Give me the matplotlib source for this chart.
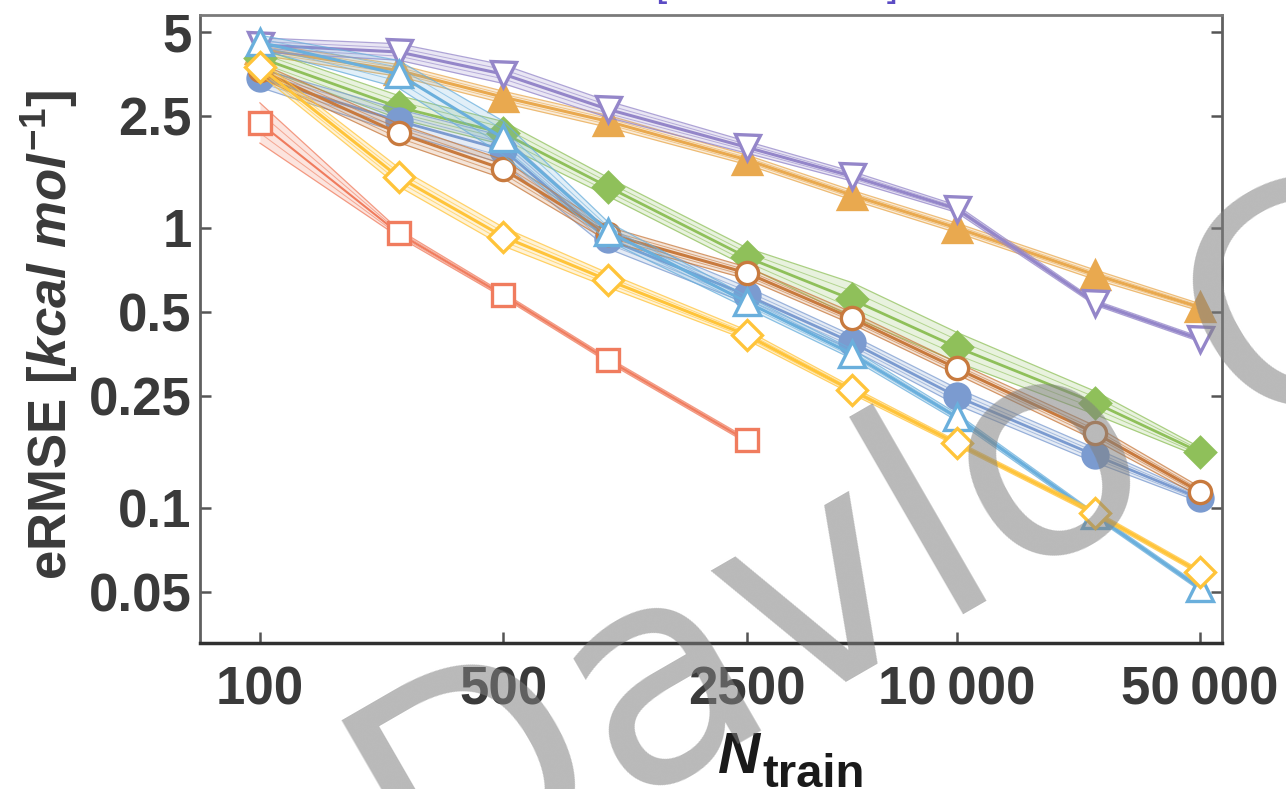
import numpy as np
import matplotlib
matplotlib.use("Agg")
import matplotlib.pyplot as plt

plt.rcParams["font.family"] = ["Liberation Sans", "DejaVu Sans"]
plt.rcParams["font.weight"] = "bold"
plt.rcParams["mathtext.fontset"] = "custom"
plt.rcParams["mathtext.rm"] = "Liberation Sans:bold"
plt.rcParams["mathtext.bf"] = "Liberation Sans:bold"
plt.rcParams["mathtext.it"] = "Liberation Sans:italic:bold"

# training-set sizes
n_train = [100, 250, 500, 1000, 2500, 5000, 10000, 25000, 50000]
n_train_short = [100, 250, 500, 1000, 2500]

# mean errors per model (kcal/mol)
purple = [4.50, 4.25, 3.54, 2.65, 1.94, 1.53, 1.17, 0.54, 0.40]
orange = [4.35, 3.65, 2.93, 2.40, 1.75, 1.31, 1.00, 0.68, 0.52]
green = [4.05, 2.70, 2.18, 1.40, 0.785, 0.555, 0.375, 0.237, 0.158]
blue = [3.43, 2.41, 1.90, 0.91, 0.575, 0.39, 0.250, 0.154, 0.108]
brown = [3.65, 2.18, 1.62, 0.95, 0.69, 0.476, 0.315, 0.185, 0.114]
lightblue = [4.60, 3.54, 2.09, 0.97, 0.543, 0.355, 0.211, 0.094, 0.0516]
yellow = [3.75, 1.52, 0.93, 0.65, 0.414, 0.263, 0.170, 0.0957, 0.0589]
red = [2.37, 0.957, 0.575, 0.337, 0.174]

# relative spread of the runs around each mean
purple_spread = [0.06, 0.07, 0.08, 0.07, 0.05, 0.04, 0.03, 0.02, 0.02]
orange_spread = [0.05, 0.05, 0.05, 0.05, 0.04, 0.04, 0.04, 0.04, 0.03]
green_spread = [0.08, 0.10, 0.10, 0.08, 0.08, 0.15, 0.13, 0.10, 0.04]
blue_spread = [0.08, 0.10, 0.12, 0.08, 0.07, 0.06, 0.07, 0.06, 0.03]
brown_spread = [0.06, 0.08, 0.08, 0.06, 0.05, 0.05, 0.05, 0.06, 0.04]
lightblue_spread = [0.06, 0.12, 0.15, 0.08, 0.05, 0.04, 0.03, 0.02, 0.02]
yellow_spread = [0.06, 0.08, 0.08, 0.06, 0.04, 0.03, 0.02, 0.02, 0.02]
red_spread = [0.18, 0.03, 0.02, 0.02, 0.02]

y_ticks = [0.05, 0.1, 0.25, 0.5, 1, 2.5, 5]
y_ticklabels = ["0.05", "0.1", "0.25", "0.5", "1", "2.5", "5"]
x_ticks = [100, 500, 2500, 10000, 50000]
x_ticklabels = ["100", "500", "2500", "10\u2009000", "50\u2009000"]

fig = plt.figure(figsize=(12.86, 7.89), dpi=100)
ax = fig.add_axes([200 / 1286, 1 - 643 / 789, 1022 / 1286, 628 / 789])

series = [
    # (x, y, spread, color, marker, size, filled, linewidth)
    (n_train_short, red, red_spread, "#f07c5e", "s", 15.5, False, 1.5),
    (n_train, orange, orange_spread, "#e9a94f", "^", 20, True, 2.2),
    (n_train, purple, purple_spread, "#9486c9", "v", 18, False, 2.2),
    (n_train, green, green_spread, "#8fc05a", "D", 15, True, 2.0),
    (n_train, blue, blue_spread, "#7b9bd0", "o", 18, True, 2.0),
    (n_train, brown, brown_spread, "#c87a3e", "o", 16, False, 2.2),
    (n_train, lightblue, lightblue_spread, "#6aafdc", "^", 19, False, 2.2),
    (n_train, yellow, yellow_spread, "#ffc43a", "D", 15, False, 2.2),
]

for i, (x, y, s, c, m, ms, filled, lw) in enumerate(series):
    x = np.asarray(x, float)
    y = np.asarray(y, float)
    s = np.asarray(s, float)
    lo = y / (1 + s)
    hi = y * (1 + s)
    z = 2 + i
    ax.fill_between(x, lo, hi, color=c, alpha=0.2, lw=0, zorder=z)
    ax.plot(x, lo, color=c, lw=0.9, alpha=0.75, zorder=z)
    ax.plot(x, hi, color=c, lw=0.9, alpha=0.75, zorder=z)
    ax.plot(x, np.sqrt(lo * y), color=c, lw=0.7, alpha=0.6, zorder=z)
    ax.plot(x, np.sqrt(hi * y), color=c, lw=0.7, alpha=0.6, zorder=z)
    ax.plot(x, y, color=c, lw=lw, zorder=z + 0.5,
            marker=m, ms=ms, mew=2.4, mec=c,
            mfc=c if filled else "white")

ax.set_xscale("log")
ax.set_yscale("log")
ax.set_xlim(67.3, 57800)
ax.set_ylim(0.0329, 5.76)

ax.xaxis.set_minor_locator(matplotlib.ticker.NullLocator())
ax.yaxis.set_minor_locator(matplotlib.ticker.NullLocator())
ax.set_xticks(x_ticks)
ax.set_xticklabels(x_ticklabels)
ax.set_yticks(y_ticks)
ax.set_yticklabels(y_ticklabels)

ax.tick_params(axis="both", direction="in", length=8, width=1.8,
               color="#555555", labelsize=38, labelcolor="#3a3a3a")
ax.tick_params(axis="y", right=True, pad=6)
ax.tick_params(axis="x", top=False, pad=16)

for side in ["left", "right", "top"]:
    ax.spines[side].set_color("#606060")
    ax.spines[side].set_linewidth(2.0)
ax.spines["top"].set_color("#7a7a7a")
ax.spines["bottom"].set_color("#303030")
ax.spines["bottom"].set_linewidth(2.5)

ax.set_ylabel(r"eRMSE [$kcal\ mol^{-1}$]", fontsize=38, fontweight="bold",
              color="#3a3a3a")
ax.yaxis.set_label_coords(-0.117, 0.49)

# x-axis title: italic N with a large subscript
fig.text(718 / 1286, 1 - 773 / 789, "N", fontsize=42, style="italic",
         fontweight="bold", color="#1a1a1a", ha="left", va="baseline")
fig.text(762 / 1286, 1 - 787 / 789, "train", fontsize=34,
         fontweight="bold", color="#1a1a1a", ha="left", va="baseline")

# heading just above the canvas, only its brackets reach into view
fig.text(655 / 1286, 1 - 4 / 789, "[", fontsize=29, color="#5b4bc4",
         ha="left", va="bottom", fontweight="normal")
fig.text(887 / 1286, 1 - 4 / 789, "]", fontsize=29, color="#5b4bc4",
         ha="left", va="bottom", fontweight="normal")

# overlay stamp
fig.text(426 / 1286, 1 - 925 / 789, "Davlo C", fontsize=216,
         fontweight="normal", family=["DejaVu Sans"],
         color="#808080", alpha=0.55, rotation=30, rotation_mode="anchor",
         ha="left", va="baseline", zorder=100)

fig.savefig("out.png", dpi=100)
